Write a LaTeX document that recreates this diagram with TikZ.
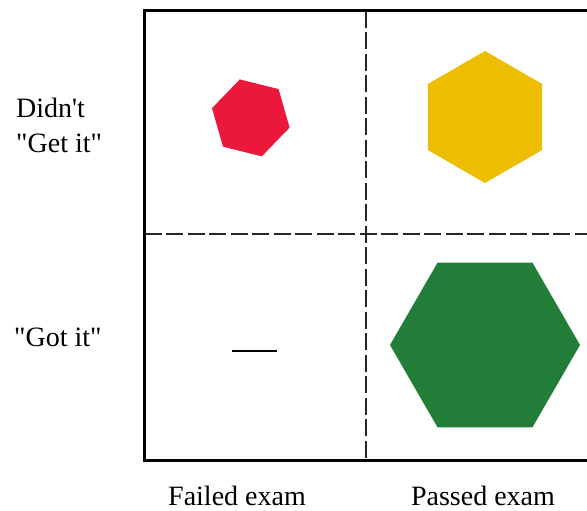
\documentclass[tikz,border=0pt]{standalone}
\usepackage{fontspec}
\setmainfont{Liberation Serif}[Ligatures=TeXOff]
\definecolor{hexred}{RGB}{236,24,60}
\definecolor{hexyellow}{RGB}{237,189,0}
\definecolor{hexgreen}{RGB}{33,125,55}
\begin{document}
\begin{tikzpicture}[x=1pt,y=1pt,
  frame/.style={line width=3pt,black},
  divider/.style={line width=1.8pt,black!85,dash pattern=on 17pt off 4.5pt},
  lbl/.style={inner sep=0pt,font=\fontsize{28}{35}\selectfont}]
\useasboundingbox (0,0) rectangle (587,511);
\clip (0,0) rectangle (587,511);
% dividers
\draw[divider] (366,500) -- (366,50.5);
\draw[divider] (144.5,277) -- (600,277);
% frame
\draw[frame] (600,500) -- (144.5,500) -- (144.5,50.5) -- (600,50.5);
% hexagons
\fill[hexred] (250.8,393.1) ++(-14:40) -- ++(106:40) -- ++(166:40) -- ++(226:40) -- ++(286:40) -- ++(346:40) -- cycle;
\fill[hexyellow] (485,394) +(30:66) -- +(90:66) -- +(150:66) -- +(210:66) -- +(270:66) -- +(330:66) -- cycle;
\fill[hexgreen] (485,166) +(0:95) -- +(60:95) -- +(120:95) -- +(180:95) -- +(240:95) -- +(300:95) -- cycle;
% dash
\coordinate (d1) at (232.3,160);
\coordinate (d2) at (276.7,160);
\draw[line width=1.6pt] (d1) -- (d2);
% labels
\node[lbl,anchor=base west] (l1) at (16,393) {Didn't};
\node[lbl,anchor=base west] (l2) at (16,358) {"Get it"};
\node[lbl,anchor=base west] (l3) at (14,164) {"Got it"};
\node[lbl,anchor=base] (l4) at (237,5) {Failed exam};
\node[lbl,anchor=base] (l5) at (483,5) {Passed exam};
\end{tikzpicture}
\end{document}
